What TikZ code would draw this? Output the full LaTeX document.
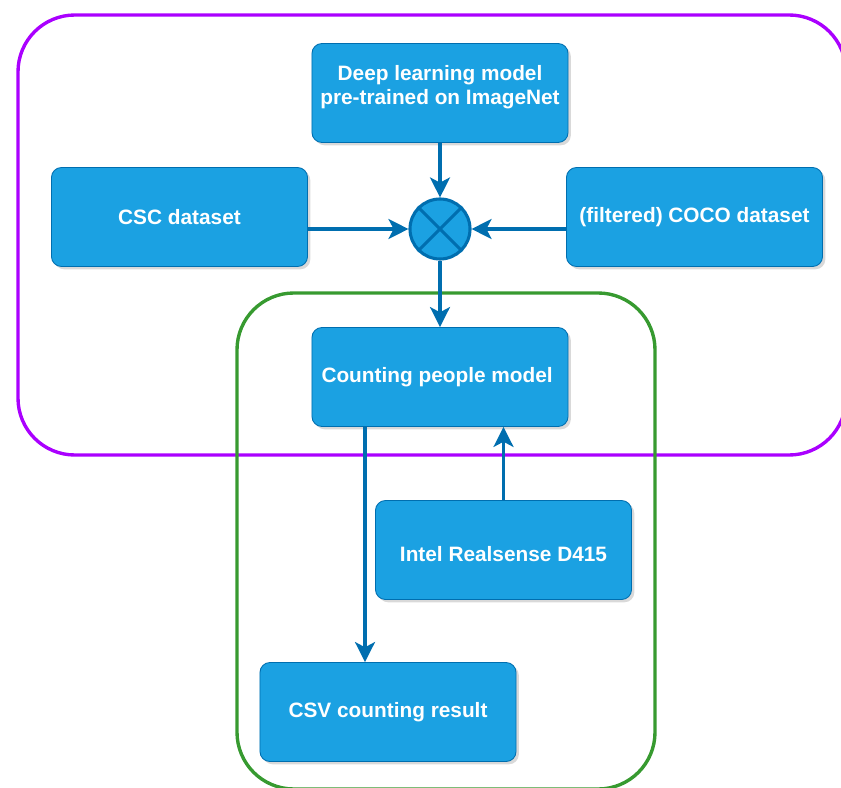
\documentclass[tikz,border=0pt]{standalone}
\usepackage{fontspec}
\setmainfont{Liberation Sans}
\usetikzlibrary{arrows.meta, shadows}
\definecolor{boxfill}{HTML}{1BA1E2}
\definecolor{boxline}{HTML}{006EAF}
\definecolor{outerpurple}{HTML}{AA00FF}
\definecolor{innergreen}{HTML}{379A30}

\begin{document}
\begin{tikzpicture}[x=0.025cm, y=-0.025cm,
    block/.style={rectangle, rounded corners=0.25cm, draw=boxline, fill=boxfill, line width=0.6pt, minimum width=6.4cm, minimum height=2.475cm, align=center, text=white, font=\bfseries\fontsize{14.8}{17}\selectfont, drop shadow={shadow xshift=0.07cm, shadow yshift=-0.07cm, opacity=0.3}},
    mixer/.style={circle, draw=boxline, fill=boxfill, line width=2.2pt, minimum size=1.5cm, inner sep=0pt},
    flow/.style={line width=2.2pt, draw=boxline, -{Stealth[length=0.5cm, width=0.5cm, inset=0.13cm]}},
    frame/.style={line width=2.4pt, rounded corners=1.42cm}
]
    \clip (0,0) rectangle (841,788);

    % Groups
    \draw[frame, draw=outerpurple] (18,15) rectangle (846,455);
    \draw[frame, draw=innergreen] (237,293) rectangle (655,789);

    % Inputs
    \node[block, text depth=0.39cm] (pretrained) at (440,93) {Deep learning model\\pre-trained on ImageNet};
    \node[block] (csc) at (179.5,217) {CSC dataset};
    \node[block] (coco) at (694.5,217) {(filtered) COCO dataset};
    \node[mixer] (combine) at (440,229) {};
    \draw[boxline, line width=2.2pt] (combine.north west) -- (combine.south east);
    \draw[boxline, line width=2.2pt] (combine.north east) -- (combine.south west);

    % Counting pipeline
    \node[block] (counting) at (440,377) {Counting people model };
    \node[block, text height=0.6cm] (realsense) at (503.5,550) {Intel Realsense D415};
    \node[block] (csv) at (388,712) {CSV counting result};

    % Connections
    \draw[flow] (pretrained.south) -- (combine.north);
    \draw[flow] (combine.west -| csc.east) -- (combine.west);
    \draw[flow] (combine.east -| coco.west) -- (combine.east);
    \draw[flow] (combine.south) -- (counting.north);
    \draw[flow] (counting.south -| 365,0) -- (csv.north -| 365,0);
    \draw[flow] (realsense.north) -- (counting.south -| realsense.north);

\end{tikzpicture}
\end{document}
